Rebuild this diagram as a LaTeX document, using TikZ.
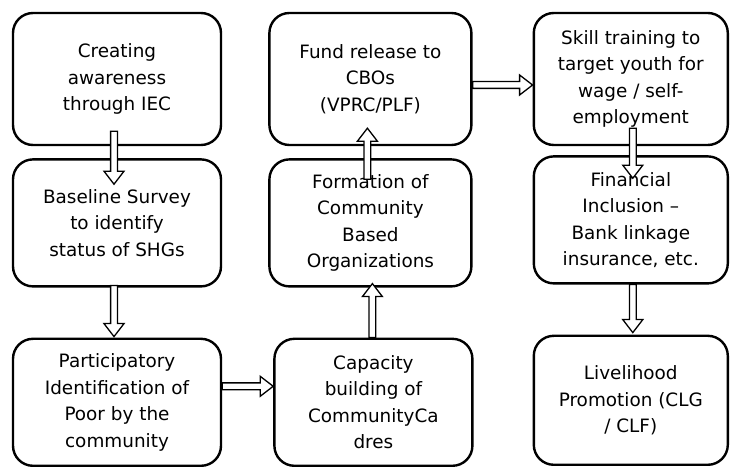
\documentclass[tikz,border=0pt]{standalone}
\usepackage{fontspec}
\setmainfont{DejaVu Sans}
\usepackage{tikz}
\usetikzlibrary{positioning,calc}

\begin{document}
\begin{tikzpicture}[
stage/.style={
  draw,
  rounded corners=20pt,
  line width=2.4pt,
  minimum width=202pt,
  minimum height=127pt,
  align=center,
  font=\fontsize{18.4}{26.5}\selectfont
},
hollow/.style={
  draw,
  fill=white,
  line width=1.3pt,
  to path={let \p1=(\tikztostart), \p2=(\tikztotarget),
    \p3=($(\p2)!13pt!(\p1)$) in
    ($(\p1)!3.4pt!90:(\p2)$) -- ($(\p3)!3.4pt!-90:(\p1)$)
    -- ($(\p3)!10pt!-90:(\p1)$) -- (\p2)
    -- ($(\p3)!10pt!90:(\p1)$) -- ($(\p3)!3.4pt!90:(\p1)$)
    -- ($(\p1)!3.4pt!-90:(\p2)$) -- cycle}
},
node distance=12pt
]
\useasboundingbox (0,0) rectangle (732pt,-470pt);

\node[stage,minimum width=208pt,minimum height=132pt] at (117pt,-79pt)
  (creat) {Creating\\awareness\\through IEC};
\node[stage,minimum width=208pt,below=of creat]
  (base) {Baseline Survey\\to identify\\status of SHGs};
\node[stage,minimum width=208pt,below=50pt of base]
  (partic) {Participatory\\Identification of\\Poor by the\\community};

\node[stage,minimum height=132pt,right=46pt of creat]
  (fund) {Fund release to\\CBOs\\(VPRC/PLF)};
\node[stage,below=of fund]
  (form) {Formation of\\Community\\Based\\Organizations};
\node[stage,minimum width=198pt,below=50pt of form,xshift=3pt]
  (capac) {Capacity\\building of\\CommunityCa\\dres};

\node[stage,minimum width=194pt,minimum height=132pt,right=60pt of fund]
  (skill) {Skill training to\\target youth for\\wage / self-\\employment};
\node[stage,minimum width=194pt,below=9pt of skill]
  (fin) {Financial\\Inclusion –\\Bank linkage\\insurance, etc.};
\node[stage,minimum width=194pt,minimum height=129pt,below=50pt of fin]
  (live) {Livelihood\\Promotion (CLG\\/ CLF)};

\draw[hollow] ([xshift=-3pt,yshift=15pt]creat.south) to ([xshift=-3pt,yshift=-26pt]base.north);
\draw[hollow] ([xshift=-3pt,yshift=2pt]base.south) to ([xshift=-3pt,yshift=1pt]partic.north);
\draw[hollow] ([yshift=16pt]partic.east) to ([yshift=16pt]partic.east -| capac.west);
\draw[hollow] ([xshift=-1pt]capac.north) to ([xshift=2pt,yshift=4pt]form.south);
\draw[hollow] ([xshift=-3pt,yshift=-21pt]form.north) to ([xshift=-3pt,yshift=18pt]fund.south);
\draw[hollow] ([yshift=-6pt]fund.east) to ([yshift=-6pt]fund.east -| skill.west);
\draw[hollow] ([xshift=2pt,yshift=18pt]skill.south) to ([xshift=2pt,yshift=-23pt]fin.north);
\draw[hollow] ([xshift=2pt]fin.south) to ([xshift=2pt,yshift=2pt]live.north);

\end{tikzpicture}
\end{document}
